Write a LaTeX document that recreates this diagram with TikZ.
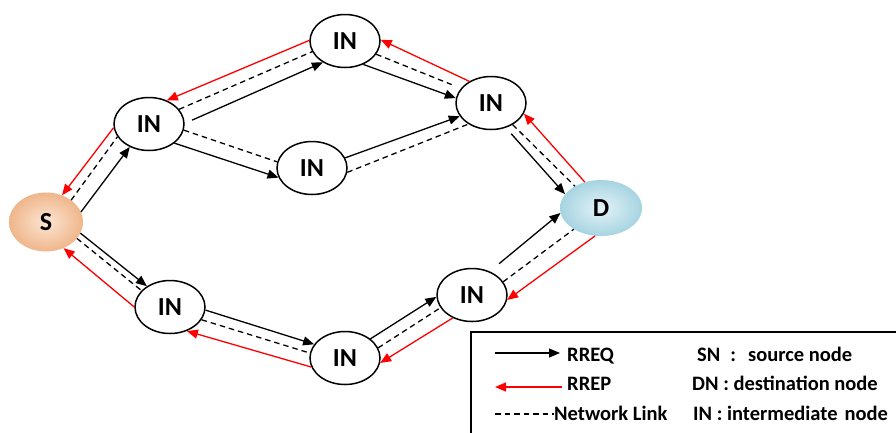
\documentclass[tikz,border=0pt]{standalone}
\usepackage{fontspec}
\setmainfont{Carlito}
\usetikzlibrary{arrows.meta,shapes.geometric}
\definecolor{srclight}{HTML}{FCE5D3}
\definecolor{srcdark}{HTML}{EFB68B}
\definecolor{dstlight}{HTML}{E4F3F8}
\definecolor{dstdark}{HTML}{A6D4E1}

\begin{document}
\begin{tikzpicture}[
  x=1pt, y=-1pt,
  innode/.style={draw, ellipse, line width=1.5pt, fill=white, minimum width=70pt, minimum height=53pt, inner sep=0pt, font=\fontsize{26}{30}\selectfont\bfseries},
  endnode/.style={ellipse, minimum width=74pt, minimum height=59pt, inner sep=0pt, shading=radial, font=\fontsize{26}{30}\selectfont\bfseries},
  req/.style={-{Triangle[length=11pt,width=9pt]}, line width=1.3pt, black},
  rep/.style={-{Triangle[length=11pt,width=9pt]}, line width=1.3pt, red},
  netlink/.style={dash pattern=on 5.5pt off 4pt, line width=1.3pt},
  legend/.style={anchor=base west, inner sep=0pt, font=\fontsize{20.5}{24}\selectfont\bfseries}
]
\useasboundingbox (0,0) rectangle (896,432);
% nodes
\node[endnode, inner color=srclight, outer color=srcdark] (S) at (46,222) {S};
\node[endnode, minimum width=82pt, minimum height=56pt, inner color=dstlight, outer color=dstdark] (D) at (601,208) {D};
\node[innode] (IN1) at (149,124) {IN};
\node[innode] (IN2) at (345,41)  {IN};
\node[innode] (IN3) at (312,168) {IN};
\node[innode] (IN4) at (491,103) {IN};
\node[innode] (IN5) at (170,307) {IN};
\node[innode] (IN6) at (345,358) {IN};
\node[innode] (IN7) at (472,295) {IN};
% upper route
\draw[req] (S.16) -- (IN1.230);
\draw[netlink] (S.41) -- (IN1.202);
\draw[rep] (IN1.186) -- (S.59);
\draw[req, shorten <=8pt] (IN1.1) -- (IN2.224);
\draw[netlink] (IN1.26) -- (IN2.198);
\draw[rep] (IN2.179) -- (IN1.53);
\draw[req] (IN1.323) -- (IN3.196);
\draw[netlink] (IN1.350) -- (IN3.170);
\draw[req] (IN2.308) -- (IN4.172);
\draw[netlink, shorten >=10pt] (IN2.337) -- (IN4.154);
\draw[rep] (IN4.135) -- (IN2.2);
\draw[req] (IN3.17) -- (IN4.203);
\draw[netlink] (IN3.353) -- (IN4.223);
\draw[req, shorten <=8pt] (IN4.301) -- (D.159);
\draw[netlink] (IN4.315) -- (D.140);
\draw[rep] (D.122) -- (IN4.342);
% lower route
\draw[req] (S.342) -- (IN5.138);
\draw[netlink] (S.332) -- (IN5.150);
\draw[rep] (IN5.180) -- (S.304);
\draw[req] (IN5.355) -- (IN6.156);
\draw[netlink] (IN5.338) -- (IN6.172);
\draw[rep] (IN6.195) -- (IN5.305);
\draw[req] (IN6.37) -- (IN7.183);
\draw[netlink] (IN6.17) -- (IN7.202);
\draw[rep] (IN7.230) -- (IN6.352);
\draw[req, shorten <=12pt] (IN7.53) -- (D.187);
\draw[netlink] (IN7.23) -- (D.218);
\draw[rep] (D.258) -- (IN7.352);
% legend
\draw[line width=1.3pt] (471,440) -- (471,332) -- (900,332);
\node[legend] (rreq)  at (567,361) {RREQ};
\node[legend] (rrep)  at (567,390) {RREP};
\node[legend] (nlink) at (554,420) {Network Link};
\node[legend] (sn)  at (697,361) {SN\hspace{10pt}:\hspace{12pt}source node};
\node[legend] (dn)  at (692,390) {DN : destination node};
\node[legend] (inn) at (693,420) {IN : intermediate\hspace{7pt}node};
\coordinate (reqA)  at (495,353);
\coordinate (repA)  at (495,387);
\coordinate (linkA) at (495,414);
\draw[req, shorten >=7pt] (reqA) -- (reqA -| rreq.west);
\draw[rep, shorten <=5pt] (repA -| rrep.west) -- (repA);
\draw[netlink] (linkA) -- (linkA -| nlink.west);
\end{tikzpicture}
\end{document}
